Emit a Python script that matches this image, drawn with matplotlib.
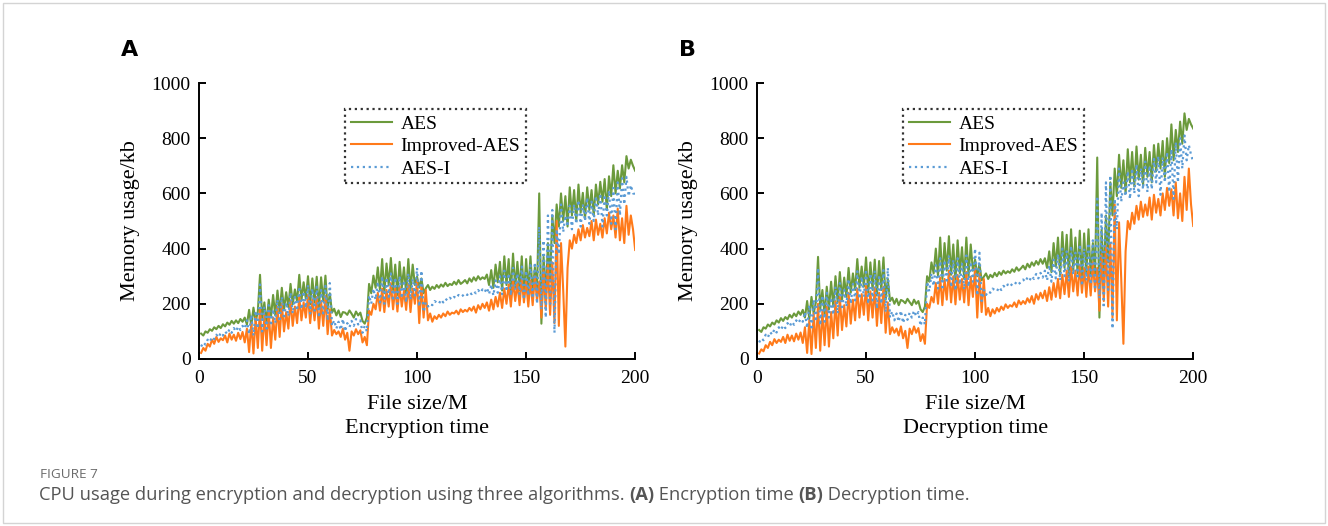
import matplotlib
matplotlib.use("Agg")
import matplotlib.pyplot as plt
from matplotlib.patches import Rectangle
import numpy as np

# file size axis (M)
file_size = np.arange(1, 201)

# ---- (A) encryption ----
aes_enc = [
    92, 85, 100, 95, 108, 102, 115, 108, 120, 112,
    126, 118, 132, 124, 138, 128, 140, 130, 145, 135,
    150, 125, 178, 118, 186, 135, 172, 305, 148, 205,
    128, 215, 150, 232, 158, 248, 168, 258, 178, 242,
    188, 272, 198, 252, 208, 305, 212, 278, 218, 300,
    198, 292, 205, 298, 188, 296, 208, 302, 178, 238,
    168, 182, 158, 176, 152, 170, 168, 160, 176, 164,
    150, 172, 158, 168, 138, 128, 150, 272, 238, 302,
    258, 332, 248, 362, 238, 346, 268, 366, 250, 342,
    232, 352, 258, 332, 238, 362, 248, 342, 268, 298,
    258, 292, 238, 256, 268, 250, 262, 254, 268, 258,
    270, 262, 276, 264, 272, 268, 280, 270, 286, 272,
    278, 286, 274, 292, 280, 296, 284, 300, 288, 296,
    290, 306, 268, 322, 258, 342, 278, 352, 248, 372,
    268, 362, 238, 382, 258, 352, 248, 372, 228, 362,
    248, 372, 238, 332, 250, 600, 128, 370, 230, 420,
    280, 520, 420, 560, 480, 600, 500, 590, 480, 622,
    520, 612, 500, 632, 530, 602, 508, 622, 540, 612,
    520, 632, 560, 642, 570, 652, 540, 662, 590, 702,
    600, 682, 618, 702, 640, 735, 690, 722, 700, 682,
]
improved_enc = [
    22, 40, 30, 55, 45, 70, 55, 80, 62, 75,
    68, 85, 60, 92, 70, 88, 66, 95, 72, 98,
    60, 110, 25, 130, 20, 150, 40, 185, 30, 160,
    50, 175, 40, 150, 70, 190, 80, 200, 100, 170,
    110, 210, 120, 190, 130, 225, 140, 205, 150, 232,
    130, 215, 140, 225, 110, 210, 120, 228, 90, 180,
    85, 105, 90, 100, 80, 110, 70, 95, 30, 100,
    85, 108, 90, 104, 60, 80, 50, 175, 160, 200,
    180, 240, 175, 255, 170, 250, 190, 275, 180, 258,
    172, 262, 190, 248, 178, 270, 170, 255, 200, 285,
    130, 268, 150, 250, 140, 165, 135, 155, 145, 160,
    150, 165, 155, 172, 160, 168, 165, 175, 162, 180,
    170, 178, 172, 185, 175, 190, 168, 195, 180, 200,
    185, 205, 175, 215, 180, 225, 190, 240, 185, 255,
    200, 270, 190, 285, 210, 275, 195, 290, 205, 280,
    190, 285, 195, 300, 210, 280, 150, 320, 180, 340,
    160, 350, 130, 500, 120, 420, 250, 45, 330, 430,
    400, 450, 420, 470, 430, 485, 440, 475, 445, 500,
    430, 505, 450, 490, 440, 510, 455, 530, 470, 520,
    440, 545, 430, 510, 420, 555, 450, 520, 470, 395,
]
aesi_enc = [
    45, 60, 52, 70, 62, 80, 72, 88, 78, 95,
    85, 100, 90, 108, 95, 112, 100, 118, 105, 120,
    110, 140, 90, 160, 85, 175, 110, 270, 100, 190,
    110, 195, 120, 180, 130, 215, 135, 225, 145, 205,
    155, 240, 165, 225, 175, 262, 180, 245, 185, 268,
    165, 255, 175, 262, 150, 250, 165, 265, 140, 275,
    120, 140, 110, 135, 105, 145, 100, 130, 115, 138,
    120, 145, 125, 140, 95, 120, 100, 230, 200, 255,
    215, 280, 205, 300, 200, 295, 225, 310, 210, 295,
    200, 300, 220, 285, 205, 310, 215, 290, 230, 330,
    190, 320, 170, 205, 190, 200, 195, 210, 205, 200,
    215, 205, 218, 212, 222, 215, 225, 220, 232, 225,
    230, 238, 232, 242, 235, 245, 238, 250, 240, 252,
    242, 258, 235, 270, 230, 285, 240, 300, 235, 320,
    245, 310, 230, 330, 250, 310, 235, 335, 215, 320,
    230, 340, 220, 350, 200, 480, 180, 430, 150, 520,
    200, 540, 95, 470, 380, 560, 460, 520, 480, 555,
    470, 560, 490, 575, 480, 560, 500, 585, 490, 570,
    500, 590, 520, 600, 480, 595, 520, 610, 490, 620,
    470, 640, 520, 655, 560, 660, 590, 630, 600, 598,
]

# ---- (B) decryption ----
aes_dec = [
    105, 98, 115, 110, 125, 118, 132, 125, 140, 132,
    148, 138, 152, 144, 160, 150, 165, 155, 172, 160,
    178, 150, 210, 145, 225, 165, 205, 370, 180, 250,
    160, 262, 180, 280, 190, 300, 205, 315, 215, 295,
    225, 330, 240, 310, 250, 362, 258, 335, 262, 368,
    240, 350, 250, 360, 230, 355, 250, 368, 215, 290,
    210, 222, 200, 218, 195, 214, 210, 202, 218, 206,
    195, 215, 200, 210, 180, 170, 190, 300, 280, 350,
    310, 400, 300, 440, 290, 420, 320, 445, 305, 415,
    285, 430, 310, 405, 290, 440, 300, 415, 320, 360,
    300, 345, 285, 298, 310, 290, 305, 296, 312, 300,
    315, 305, 320, 310, 318, 312, 325, 316, 332, 320,
    328, 338, 325, 345, 332, 350, 338, 355, 342, 362,
    345, 365, 330, 390, 315, 420, 335, 440, 305, 460,
    330, 450, 300, 470, 320, 440, 310, 465, 290, 455,
    310, 470, 300, 420, 310, 730, 150, 470, 290, 520,
    350, 640, 520, 690, 590, 740, 620, 720, 600, 760,
    640, 750, 625, 770, 650, 740, 630, 765, 660, 750,
    640, 775, 680, 780, 690, 790, 660, 800, 710, 850,
    720, 830, 750, 860, 780, 890, 830, 870, 850, 835,
]
improved_dec = [
    20, 35, 28, 50, 40, 62, 50, 72, 58, 70,
    62, 80, 58, 88, 66, 85, 64, 92, 70, 96,
    58, 115, 22, 140, 18, 165, 40, 200, 30, 175,
    50, 190, 45, 170, 75, 210, 85, 225, 105, 195,
    118, 240, 128, 215, 140, 255, 150, 235, 160, 265,
    140, 245, 150, 258, 120, 240, 130, 262, 95, 205,
    90, 115, 95, 110, 85, 118, 75, 102, 40, 110,
    90, 118, 95, 112, 65, 90, 55, 200, 185, 225,
    205, 275, 200, 295, 195, 290, 215, 320, 205, 300,
    198, 305, 215, 290, 205, 315, 195, 298, 225, 330,
    150, 310, 170, 290, 160, 185, 155, 180, 165, 185,
    172, 190, 178, 198, 185, 195, 190, 205, 188, 212,
    198, 210, 200, 220, 205, 228, 200, 235, 215, 240,
    220, 248, 210, 260, 215, 275, 225, 290, 220, 305,
    235, 320, 225, 335, 245, 320, 230, 340, 240, 330,
    225, 335, 230, 350, 245, 330, 175, 380, 210, 410,
    190, 420, 150, 560, 140, 495, 290, 55, 390, 500,
    470, 530, 490, 555, 505, 570, 515, 560, 520, 585,
    505, 595, 530, 580, 520, 600, 540, 620, 555, 615,
    520, 640, 510, 600, 500, 660, 540, 690, 560, 482,
]
aesi_dec = [
    60, 75, 68, 88, 78, 98, 88, 108, 96, 115,
    105, 122, 112, 130, 118, 135, 124, 140, 130, 145,
    135, 170, 112, 195, 105, 215, 135, 330, 122, 230,
    135, 240, 150, 222, 160, 262, 165, 275, 178, 250,
    190, 290, 200, 272, 212, 318, 218, 298, 225, 325,
    200, 310, 212, 320, 182, 305, 200, 322, 170, 330,
    150, 172, 140, 165, 135, 175, 130, 160, 142, 168,
    150, 175, 155, 170, 120, 150, 125, 280, 245, 310,
    265, 340, 255, 365, 250, 358, 275, 375, 260, 358,
    248, 365, 270, 345, 252, 375, 262, 352, 280, 400,
    230, 385, 210, 250, 232, 245, 240, 255, 250, 245,
    260, 250, 265, 258, 270, 262, 272, 268, 280, 272,
    278, 288, 280, 295, 285, 300, 290, 308, 292, 312,
    295, 320, 285, 340, 280, 360, 292, 380, 285, 400,
    300, 390, 280, 410, 305, 385, 290, 415, 265, 400,
    285, 420, 270, 430, 250, 590, 220, 530, 185, 640,
    250, 665, 110, 580, 470, 690, 570, 640, 590, 680,
    580, 690, 600, 705, 590, 690, 615, 715, 605, 700,
    615, 725, 640, 735, 595, 730, 640, 750, 605, 760,
    580, 785, 640, 800, 690, 810, 720, 775, 740, 715,
]

series_names = ["AES", "Improved-AES", "AES-I"]
panel_titles = ["Encryption time", "Decryption time"]
panel_letters = ["A", "B"]
x_ticks = [0, 50, 100, 150, 200]
y_ticks = [0, 200, 400, 600, 800, 1000]

plt.rcParams['font.family'] = 'Liberation Serif'

fig = plt.figure(figsize=(13.28, 5.26), dpi=100)
# light card border round the whole figure
fig.patches.append(Rectangle((0.0025, 0.005), 0.995, 0.99, transform=fig.transFigure,
                             fill=False, edgecolor='#d4d4d4', linewidth=1.0))

colors = ['#6b9a3c', '#ff7a1a', '#5b9bd5']
styles = ['-', '-', ':']
widths = [1.5, 1.5, 1.6]

panels = [(aes_enc, improved_enc, aesi_enc), (aes_dec, improved_dec, aesi_dec)]
lefts = [0.1498, 0.570]

for i, data in enumerate(panels):
    ax = fig.add_axes([lefts[i], 0.3175, 0.3285, 0.5247])
    for vals, name, c, ls, lw in zip(data, series_names, colors, styles, widths):
        ax.plot(file_size, vals, color=c, linestyle=ls, linewidth=lw, label=name)

    ax.set_xlim(0, 200)
    ax.set_ylim(0, 1000)
    ax.set_xticks(x_ticks)
    ax.set_yticks(y_ticks)
    ax.spines['top'].set_visible(False)
    ax.spines['right'].set_visible(False)
    for s in ['left', 'bottom']:
        ax.spines[s].set_linewidth(1.4)
    ax.tick_params(direction='in', length=5, width=1.4, labelsize=14)
    ax.tick_params(axis='x', pad=8)
    ax.tick_params(axis='y', pad=6)

    ax.set_xlabel("File size/M\n" + panel_titles[i], fontsize=16, linespacing=1.3, labelpad=6)
    ax.set_ylabel("Memory usage/kb", fontsize=16, labelpad=8)

    leg = ax.legend(loc='upper left', bbox_to_anchor=(0.335, 0.905), fontsize=14,
                    frameon=True, fancybox=False, handlelength=2.1, labelspacing=0.25,
                    borderpad=0.3, handletextpad=0.45, borderaxespad=0)
    frame = leg.get_frame()
    frame.set_edgecolor('black')
    frame.set_linestyle(':')
    frame.set_linewidth(1.6)

    fig.text(lefts[i] - 0.052, 0.905, panel_letters[i], fontsize=16, fontweight='bold',
             family='DejaVu Sans', ha='center', va='center')

# caption below the panels
fig.text(0.030, 0.097, "FIGURE 7", fontsize=9.7, color='#6b6b6b', family='Open Sans', va='center')
cap_parts = [("CPU usage during encryption and decryption using three algorithms. ", 'normal'),
             ("(A)", 'bold'), (" Encryption time ", 'normal'), ("(B)", 'bold'),
             (" Decryption time.", 'normal')]
prev = fig.text(0.029, 0.059, cap_parts[0][0], fontsize=13.2, color='#555555',
                family='Open Sans', va='center')
# chain the remaining pieces one after another
for txt, wt in cap_parts[1:]:
    prev = fig.axes[0].annotate(txt, xy=(1, 0.5), xycoords=prev, va='center', ha='left',
                                fontsize=13.2, color='#555555', family='Open Sans',
                                fontweight=wt, annotation_clip=False)

fig.savefig('out.png', dpi=100)
